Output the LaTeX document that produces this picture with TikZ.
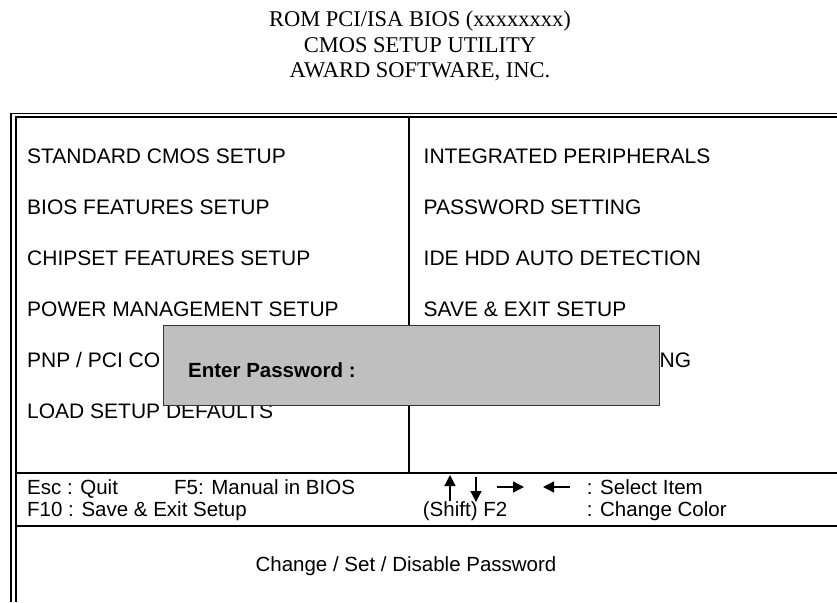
\documentclass[tikz,border=0pt]{standalone}
\usepackage{fontspec}
\setmainfont{Liberation Sans}
\newfontfamily\titlefont{Liberation Serif}
\usetikzlibrary{arrows.meta, positioning}
\tikzstyle{item} = [anchor=base west, inner sep=0pt, font=\fontsize{21}{24}\selectfont]
\tikzstyle{keyhelp} = [anchor=base west, inner sep=0pt, font=\fontsize{20.5}{23}\selectfont]
\tikzstyle{heading} = [align=center, inner sep=0pt, font=\titlefont\fontsize{22.5}{25.5}\selectfont]
\tikzstyle{frame} = [line width=1.7pt]
\tikzstyle{popup} = [draw=black!80, fill=black!25, line width=0.8pt, anchor=north west, inner sep=0pt]
\tikzstyle{keyarrow} = [-{Triangle[length=11pt,width=11pt]}, line width=1.3pt]

\begin{document}
\begin{tikzpicture}[x=1pt, y=-1pt, node distance=51pt]
\useasboundingbox (0,0) rectangle (837,602);

% heading
\node (title) [heading] at (420,46) {ROM PCI/ISA BIOS (xxxxxxxx)\\CMOS SETUP UTILITY\\AWARD SOFTWARE, INC.};

% frame
\draw[frame] (11,602) -- (11,113.5) -- (837,113.5);
\draw[frame] (15.7,602) -- (15.7,117) -- (837,117);
\draw[frame] (409,117) -- (409,472.7);
\draw[frame] (15.7,472.7) -- (837,472.7);
\draw[frame] (15.7,526) -- (837,526);

% left menu
\node (std) [item] at (27,163) {STANDARD CMOS SETUP};
\node (bios) [item, below=of std.base west, anchor=base west] {BIOS FEATURES SETUP};
\node (chip) [item, below=of bios.base west, anchor=base west] {CHIPSET FEATURES SETUP};
\node (power) [item, below=of chip.base west, anchor=base west] {POWER MANAGEMENT SETUP};
\node (pnp) [item, below=of power.base west, anchor=base west] {PNP / PCI CO};
\node (load) [item, below=of pnp.base west, anchor=base west] {LOAD SETUP DEFAULTS};

% right menu
\node (integ) [item] at (423.5,163) {INTEGRATED PERIPHERALS};
\node (pass) [item, below=of integ.base west, anchor=base west] {PASSWORD SETTING};
\node (ide) [item, below=of pass.base west, anchor=base west] {IDE HDD AUTO DETECTION};
\node (save) [item, below=of ide.base west, anchor=base west] {SAVE \& EXIT SETUP};
\node (ng) [item] at (659.5,367) {NG};

% password window
\node (pwbox) [popup, minimum width=496pt, minimum height=80pt] at (163,325) {};
\node (pwtext) [item, font=\fontsize{20.5}{24}\selectfont\bfseries] at (188,377) {Enter Password :};

% key help
\node (esc) [keyhelp] at (27,494) {Esc : Quit};
\node (f5) [keyhelp] at (174,494) {F5: Manual in BIOS};
\node (f10) [keyhelp] at (27,516.7) {F10 : Save \& Exit Setup};
\node (shift) [keyhelp] at (422.7,516.7) {(Shift) F2};
\node (select) [keyhelp] at (586.7,494) {: Select Item};
\node (color) [keyhelp] at (586.7,516.7) {: Change Color};
\draw[keyarrow] (450,501) -- (450,475);
\draw[keyarrow] (476,477) -- (476,502);
\draw[keyarrow] (497,487) -- (524,487);
\draw[keyarrow] (570,487) -- (543,487);

% status line
\node (status) [keyhelp, anchor=base] at (406,571) {Change / Set / Disable Password};
\end{tikzpicture}
\end{document}
